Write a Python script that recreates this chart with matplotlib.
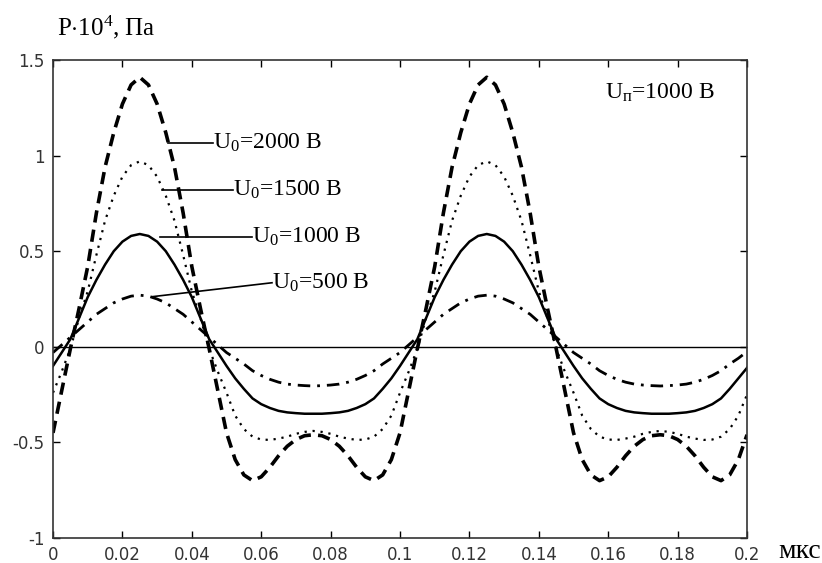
import numpy as np
import matplotlib
matplotlib.use("Agg")
import matplotlib.pyplot as plt

plt.rcParams['mathtext.fontset'] = 'custom'
plt.rcParams['mathtext.rm'] = 'Liberation Serif'
plt.rcParams['mathtext.it'] = 'Liberation Serif:italic'

# time axis, мкс (step 0.0025)
t = np.round(np.arange(0, 0.2001, 0.0025), 4)

# P*10^4, Па
p_2000 = [-0.45, -0.23, -0.01, 0.20, 0.42, 0.70, 0.94, 1.12, 1.27, 1.37,
          1.41, 1.37, 1.27, 1.12, 0.94, 0.70, 0.42, 0.20, -0.01, -0.23,
          -0.45, -0.59, -0.67, -0.70, -0.68, -0.63, -0.57, -0.52, -0.485, -0.465,
          -0.46, -0.465, -0.485, -0.52, -0.57, -0.63, -0.68, -0.70, -0.67, -0.59,
          -0.45, -0.23, -0.01, 0.20, 0.42, 0.70, 0.94, 1.12, 1.27, 1.37,
          1.41, 1.37, 1.27, 1.12, 0.94, 0.70, 0.42, 0.20, -0.01, -0.23,
          -0.45, -0.59, -0.67, -0.70, -0.68, -0.63, -0.57, -0.52, -0.485, -0.465,
          -0.46, -0.465, -0.485, -0.52, -0.57, -0.63, -0.68, -0.70, -0.67, -0.59,
          -0.46]
p_1500 = [-0.24, -0.13, -0.01, 0.15, 0.29, 0.48, 0.66, 0.79, 0.89, 0.95,
          0.97, 0.95, 0.89, 0.79, 0.66, 0.48, 0.29, 0.15, -0.01, -0.13,
          -0.24, -0.36, -0.43, -0.47, -0.485, -0.487, -0.48, -0.47, -0.455, -0.445,
          -0.44, -0.445, -0.455, -0.47, -0.48, -0.487, -0.485, -0.47, -0.43, -0.36,
          -0.24, -0.13, -0.01, 0.15, 0.29, 0.48, 0.66, 0.79, 0.89, 0.95,
          0.97, 0.95, 0.89, 0.79, 0.66, 0.48, 0.29, 0.15, -0.01, -0.13,
          -0.24, -0.36, -0.43, -0.47, -0.485, -0.487, -0.48, -0.47, -0.455, -0.445,
          -0.44, -0.445, -0.455, -0.47, -0.48, -0.487, -0.485, -0.47, -0.43, -0.36,
          -0.25]
p_1000 = [-0.10, -0.03, 0.04, 0.15, 0.26, 0.35, 0.43, 0.50, 0.55, 0.58,
          0.59, 0.58, 0.55, 0.50, 0.43, 0.35, 0.26, 0.15, 0.04, -0.03,
          -0.10, -0.165, -0.22, -0.27, -0.30, -0.32, -0.335, -0.343, -0.347, -0.35,
          -0.35, -0.35, -0.347, -0.343, -0.335, -0.32, -0.30, -0.27, -0.22, -0.165,
          -0.10, -0.03, 0.04, 0.15, 0.26, 0.35, 0.43, 0.50, 0.55, 0.58,
          0.59, 0.58, 0.55, 0.50, 0.43, 0.35, 0.26, 0.15, 0.04, -0.03,
          -0.10, -0.165, -0.22, -0.27, -0.30, -0.32, -0.335, -0.343, -0.347, -0.35,
          -0.35, -0.35, -0.347, -0.343, -0.335, -0.32, -0.30, -0.27, -0.22, -0.165,
          -0.11]
p_500 = [-0.03, 0.01, 0.05, 0.09, 0.13, 0.17, 0.20, 0.23, 0.25, 0.265,
         0.27, 0.265, 0.25, 0.23, 0.20, 0.17, 0.13, 0.09, 0.05, 0.01,
         -0.03, -0.06, -0.09, -0.125, -0.15, -0.17, -0.185, -0.195, -0.20, -0.203,
         -0.205, -0.203, -0.20, -0.195, -0.185, -0.17, -0.15, -0.125, -0.09, -0.06,
         -0.03, 0.01, 0.05, 0.09, 0.13, 0.17, 0.20, 0.23, 0.25, 0.265,
         0.27, 0.265, 0.25, 0.23, 0.20, 0.17, 0.13, 0.09, 0.05, 0.01,
         -0.03, -0.06, -0.09, -0.125, -0.15, -0.17, -0.185, -0.195, -0.20, -0.203,
         -0.205, -0.203, -0.20, -0.195, -0.185, -0.17, -0.15, -0.125, -0.09, -0.06,
         -0.025]

xticks = [0, 0.02, 0.04, 0.06, 0.08, 0.1, 0.12, 0.14, 0.16, 0.18, 0.2]
xtick_labels = ['0', '0.02', '0.04', '0.06', '0.08', '0.1', '0.12', '0.14', '0.16', '0.18', '0.2']
yticks = [-1, -0.5, 0, 0.5, 1, 1.5]
ytick_labels = ['-1', '-0.5', '0', '0.5', '1', '1.5']

fig = plt.figure(figsize=(8.22, 5.63), dpi=100)
ax = fig.add_axes([0.0645, 0.0444, 0.8443, 0.849])

ax.plot(t, p_2000, color='black', lw=2.6, linestyle=(0, (3.4, 2.0)))
ax.plot(t, p_1500, color='black', lw=1.6, linestyle=(0, (1, 2.6)))
ax.plot(t, p_1000, color='black', lw=1.8, linestyle='-')
ax.plot(t, p_500, color='black', lw=2.0, linestyle=(0, (4.5, 2.5, 1, 2.5)))
ax.axhline(0, color='black', lw=1.0)

ax.set_xlim(0, 0.2)
ax.set_ylim(-1, 1.5)
ax.set_xticks(xticks)
ax.set_xticklabels(xtick_labels)
ax.set_yticks(yticks)
ax.set_yticklabels(ytick_labels)
ax.tick_params(direction='in', length=5, width=1, top=True, right=True,
               labelsize=12, labelcolor='#333333', pad=6)
for s in ax.spines.values():
    s.set_linewidth(1.2)
    s.set_color('#333333')

serif = ['Liberation Serif', 'DejaVu Serif']
fs = 17

# leader lines and labels
ax.plot([0.0331, 0.0461], [1.068, 1.068], color='black', lw=1.2)
ax.text(0.0461, 1.068, r'U$_\mathrm{0}$=2000 В', family=serif, fontsize=fs, va='center')
ax.plot([0.0314, 0.0519], [0.822, 0.822], color='black', lw=1.2)
ax.text(0.0519, 0.822, r'U$_\mathrm{0}$=1500 В', family=serif, fontsize=fs, va='center')
ax.plot([0.0308, 0.0573], [0.576, 0.576], color='black', lw=1.2)
ax.text(0.0573, 0.576, r'U$_\mathrm{0}$=1000 В', family=serif, fontsize=fs, va='center')
ax.plot([0.0285, 0.0631], [0.262, 0.335], color='black', lw=1.2)
ax.text(0.0631, 0.335, r'U$_\mathrm{0}$=500 В', family=serif, fontsize=fs, va='center')
ax.text(0.159, 1.33, r'U$_\mathrm{п}$=1000 В', family=serif, fontsize=fs, va='center')

fig.text(57 / 822, 1 - 27 / 563, r'P$\cdot$10$^\mathrm{4}$, Па', family=serif, fontsize=18, va='center')
fig.text(778 / 822, 1 - 551 / 563, 'мкс', family=serif, fontsize=20, va='center')

fig.savefig('out.png', dpi=100)
